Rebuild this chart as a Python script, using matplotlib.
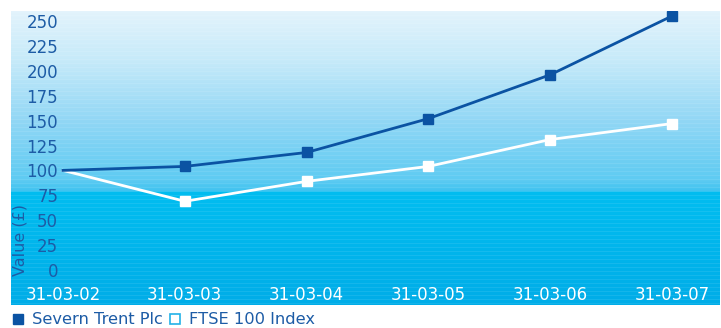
import numpy as np
import matplotlib.pyplot as plt
from matplotlib.colors import LinearSegmentedColormap
from matplotlib.lines import Line2D

# --- data ---
dates = ['31-03-02', '31-03-03', '31-03-04', '31-03-05', '31-03-06', '31-03-07']
severn = [100, 104, 118, 152, 196, 255]
ftse = [100, 69, 89, 104, 131, 147]
yticks = [0, 25, 50, 75, 100, 125, 150, 175, 200, 225, 250]

DARK = '#0b53a3'
TEXT = '#1d5ca6'
W, H = 721, 328

plt.rcParams['font.family'] = ['DejaVu Sans']

fig = plt.figure(figsize=(W / 100, H / 100), dpi=100)
# panel occupies pixels x 11..720, y 11..305
ax = fig.add_axes([11 / W, 1 - 305 / H, 709 / W, 294 / H])

x = np.arange(len(dates))
step = 121.8
xlo = -(63 - 11) / step
xhi = len(dates) - 1 + (720 - 672) / step
ylo = -(305 - 270) / 0.996
yhi = 250 + (21 - 11) / 0.996

# background gradient with faint horizontal stripes
stops = [(0.0, '#e2f3fc'), (49 / 294, '#c6eaf9'), (109 / 294, '#92d7f5'),
         (169 / 294, '#5ecbf2'), (180 / 294, '#40c3f0'), (182 / 294, '#02bdf0'),
         (1.0, '#00ade8')]
cmap = LinearSegmentedColormap.from_list('bg', stops)
rows = 294
vals = np.linspace(0, 1, rows)
img = cmap(vals)[:, :3]
stripe = (np.arange(rows) % 4 == 0)
img[stripe] = img[stripe] * 0.92 + 0.08
img = img[:, None, :].repeat(4, axis=1)
ax.imshow(img, extent=[xlo, xhi, ylo, yhi], aspect='auto', zorder=0,
          interpolation='nearest')

ax.plot(x, severn, color=DARK, lw=2.0, marker='s', ms=6.5, mec=DARK, mfc=DARK,
        markevery=list(range(1, len(x))), zorder=3)
ax.plot(x, ftse, color='white', lw=2.0, marker='s', ms=6.5, mec='white', mfc='white',
        markevery=list(range(1, len(x))), zorder=2)

ax.set_xlim(xlo, xhi)
ax.set_ylim(ylo, yhi)
ax.set_xticks(x)
ax.set_xticklabels(dates)
ax.set_yticks(yticks)
ax.tick_params(axis='y', length=0, pad=-34, labelsize=12, labelcolor=TEXT)
ax.tick_params(axis='x', length=0, pad=-13.5, labelsize=12, labelcolor='white')
for s in ax.spines.values():
    s.set_visible(False)

ax.text((20 - 11) / 709, 1 - (240 - 11) / 294, 'Value (£)', rotation=90,
        transform=ax.transAxes, ha='center', va='center', fontsize=11.5, color=TEXT)

handles = [
    Line2D([], [], ls='none', marker='s', ms=7.5, mfc=DARK, mec=DARK),
    Line2D([], [], ls='none', marker='s', ms=7.5, mfc='white', mec='#22b2e8', mew=1.2),
]
fig.legend(handles, ['Severn Trent Plc', 'FTSE 100 Index'], loc='center left',
           bbox_to_anchor=(12 / W, 1 - 320 / H), ncol=2, frameon=False,
           handlelength=0.7, handletextpad=0.55, columnspacing=0.35,
           fontsize=11.7, labelcolor=TEXT, borderpad=0, borderaxespad=0)

fig.savefig('out.png', dpi=100)
